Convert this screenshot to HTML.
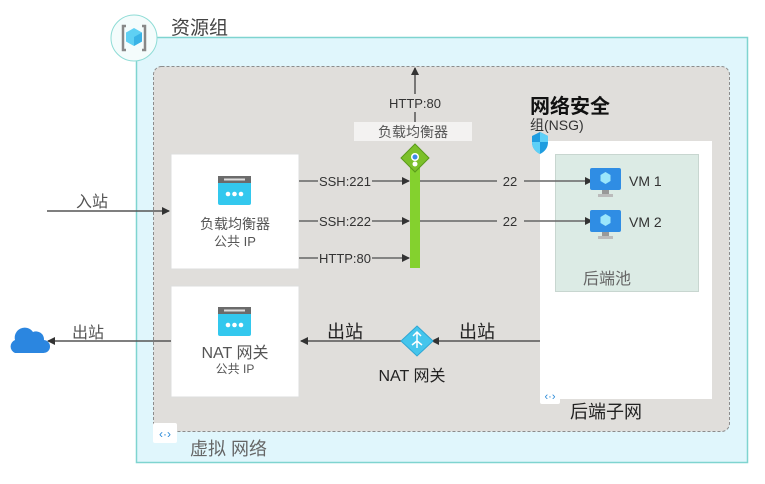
<!DOCTYPE html>
<html><head><meta charset="utf-8"><style>
html,body{margin:0;padding:0;background:#fff;}
svg{display:block;font-family:"Liberation Sans","Noto Sans CJK SC",sans-serif;}
</style></head><body>
<svg width="765" height="484" viewBox="0 0 765 484" xmlns="http://www.w3.org/2000/svg">
<defs>
<marker id="ah" markerWidth="8" markerHeight="8" refX="7" refY="4" orient="auto" markerUnits="userSpaceOnUse"><path d="M0,0 L8,4 L0,8 z" fill="#333"/></marker>
</defs>
<!-- outer -->
<rect x="136.5" y="37.5" width="611" height="425" fill="#e0f6fc" stroke="#7fd4d0" stroke-width="1.5"/>
<rect x="153.5" y="66.5" width="576" height="365" rx="8" fill="#e0dedb" stroke="#8c8c8c" stroke-dasharray="3,2"/>
<!-- resource group icon -->
<circle cx="134" cy="38" r="23" fill="#f4fcfc" stroke="#8fdcd6"/>
<path d="M126,26 h-3 v24 h3 M142,26 h3 v24 h-3" fill="none" stroke="#888" stroke-width="2.5"/>
<path d="M134,28 l8,4.5 v9 l-8,4.5 l-8,-4.5 v-9 z" fill="#5fd0f3"/>
<path d="M134,37 l8,-4.5 v9 l-8,4.5 z" fill="#3ab3e6"/>
<text x="171" y="34" font-size="19" fill="#444">资源组</text>
<!-- backend subnet -->
<rect x="540" y="141" width="172" height="258" fill="#fff"/>
<rect x="555.5" y="154.5" width="143" height="137" fill="#dcebe5" stroke="#c8d6d0"/>
<text x="583" y="284" font-size="16" fill="#666">后端池</text>
<text x="530" y="113" font-size="20" font-weight="bold" fill="#111">网络安全</text>
<text x="530" y="130" font-size="14" fill="#333">组(NSG)</text>
<path d="M532,136 l8,-4 l8,4 v6 q0,8 -8,12 q-8,-4 -8,-12 z" fill="#1f9de0"/>
<path d="M540,132 l8,4 v6 h-8 z M532,142 h8 v12 q-8,-4 -8,-12z" fill="#5ed0f7"/>
<!-- LB box -->
<rect x="171" y="154" width="128" height="115" fill="#fff" stroke="#ddd"/>
<rect x="218" y="176" width="33" height="29" rx="2" fill="#33c8ee"/>
<rect x="218" y="176" width="33" height="7" fill="#6b6b6b"/>
<rect x="224" y="178.5" width="21" height="2" fill="#ddd"/>
<circle cx="228" cy="194" r="2.3" fill="#fff"/><circle cx="234.5" cy="194" r="2.3" fill="#fff"/><circle cx="241" cy="194" r="2.3" fill="#fff"/>
<text x="235" y="229" font-size="14" fill="#555" text-anchor="middle">负载均衡器</text>
<text x="235" y="246" font-size="13" fill="#555" text-anchor="middle">公共 IP</text>
<!-- NAT box -->
<rect x="171" y="286" width="128" height="111" fill="#fff" stroke="#ddd"/>
<rect x="218" y="307" width="33" height="29" rx="2" fill="#33c8ee"/>
<rect x="218" y="307" width="33" height="7" fill="#6b6b6b"/>
<rect x="224" y="309.5" width="21" height="2" fill="#ddd"/>
<circle cx="228" cy="325" r="2.3" fill="#fff"/><circle cx="234.5" cy="325" r="2.3" fill="#fff"/><circle cx="241" cy="325" r="2.3" fill="#fff"/>
<text x="235" y="358" font-size="16" fill="#555" text-anchor="middle">NAT 网关</text>
<text x="235" y="373" font-size="12" fill="#555" text-anchor="middle">公共 IP</text>
<!-- inbound -->
<line x1="47" y1="211" x2="169" y2="211" stroke="#555" stroke-width="1.5" marker-end="url(#ah)"/>
<text x="92" y="207" font-size="16" fill="#555" text-anchor="middle">入站</text>
<!-- rows -->
<g stroke="#666" stroke-width="1.5">
<line x1="299" y1="181" x2="318" y2="181"/><line x1="372" y1="181" x2="409" y2="181" marker-end="url(#ah)"/>
<line x1="299" y1="221" x2="318" y2="221"/><line x1="372" y1="221" x2="409" y2="221" marker-end="url(#ah)"/>
<line x1="299" y1="258" x2="318" y2="258"/><line x1="372" y1="258" x2="409" y2="258" marker-end="url(#ah)"/>
<line x1="420" y1="181" x2="497" y2="181"/><line x1="524" y1="181" x2="592" y2="181" marker-end="url(#ah)"/>
<line x1="420" y1="221" x2="497" y2="221"/><line x1="524" y1="221" x2="592" y2="221" marker-end="url(#ah)"/>
</g>
<g font-size="13" fill="#333" text-anchor="middle">
<text x="345" y="186">SSH:221</text>
<text x="345" y="226">SSH:222</text>
<text x="345" y="263">HTTP:80</text>
<text x="510" y="186">22</text>
<text x="510" y="226">22</text>
<text x="415" y="108">HTTP:80</text>
</g>
<!-- green bar & top -->
<line x1="415" y1="122" x2="415" y2="112" stroke="#555" stroke-width="1.5"/>
<line x1="415" y1="94" x2="415" y2="68" stroke="#555" stroke-width="1.5" marker-end="url(#ah)"/>
<rect x="354" y="122" width="118" height="19" fill="#f3f2f1"/>
<text x="413" y="137" font-size="14" fill="#555" text-anchor="middle">负载均衡器</text>
<rect x="410" y="160" width="10" height="108" fill="#84d12e"/>
<path d="M415,144 l14,14 l-14,14 l-14,-14 z" fill="#7cc02a" stroke="#5a9a1a"/>
<circle cx="415" cy="157" r="4" fill="#fff"/><circle cx="415" cy="157" r="2.5" fill="#3d8ce8"/>
<circle cx="415" cy="164" r="2.5" fill="#fff"/>
<!-- VMs -->
<g>
<rect x="590" y="168" width="31" height="22" rx="2" fill="#2f8de4"/>
<path d="M605.5,172 l5,3 v6 l-5,3 l-5,-3 v-6z" fill="#9be6fb"/>
<rect x="602" y="190" width="7" height="4" fill="#999"/><rect x="598" y="194" width="15" height="3" fill="#bbb"/>
<rect x="590" y="210" width="31" height="22" rx="2" fill="#2f8de4"/>
<path d="M605.5,214 l5,3 v6 l-5,3 l-5,-3 v-6z" fill="#9be6fb"/>
<rect x="602" y="232" width="7" height="4" fill="#999"/><rect x="598" y="236" width="15" height="3" fill="#bbb"/>
</g>
<text x="629" y="186" font-size="14" fill="#333">VM 1</text>
<text x="629" y="227" font-size="14" fill="#333">VM 2</text>
<!-- outbound -->
<g stroke="#555" stroke-width="1.5">
<line x1="540" y1="341" x2="432" y2="341" marker-end="url(#ah)"/>
<line x1="401" y1="341" x2="301" y2="341" marker-end="url(#ah)"/>
<line x1="171" y1="341" x2="48" y2="341" marker-end="url(#ah)"/>
</g>
<text x="477" y="338" font-size="18" fill="#222" text-anchor="middle">出站</text>
<text x="345" y="338" font-size="18" fill="#222" text-anchor="middle">出站</text>
<text x="88" y="338" font-size="16" fill="#555" text-anchor="middle">出站</text>
<path d="M417,326 l16,15 l-16,15 l-16,-15 z" fill="#44c5ec" stroke="#2fa6d4"/>
<path d="M417,348 v-16 M413,336 l4,-4 l4,4 M417,341 l-5,4 M417,341 l5,4" stroke="#fff" stroke-width="1.5" fill="none"/>
<text x="412" y="381" font-size="16" fill="#222" text-anchor="middle">NAT 网关</text>
<!-- cloud -->
<path d="M15,353 a7,7 0 0 1 0,-13 a10,10 0 0 1 18,-8 a8,8 0 0 1 11,8 a6.5,6.5 0 0 1 -1,13 z" fill="#2b86e0"/>
<!-- subnet icons -->
<rect x="540" y="387" width="20" height="17" rx="2" fill="#fff"/>
<text x="550" y="400" font-size="11" fill="#2a8ad8" text-anchor="middle">‹·›</text>
<text x="570" y="418" font-size="18" fill="#222">后端子网</text>
<rect x="153" y="423" width="24" height="20" rx="2" fill="#fff"/>
<text x="165" y="438" font-size="12" fill="#2a8ad8" text-anchor="middle">‹·›</text>
<text x="190" y="455" font-size="18" fill="#666">虚拟 网络</text>
</svg>
</body></html>
